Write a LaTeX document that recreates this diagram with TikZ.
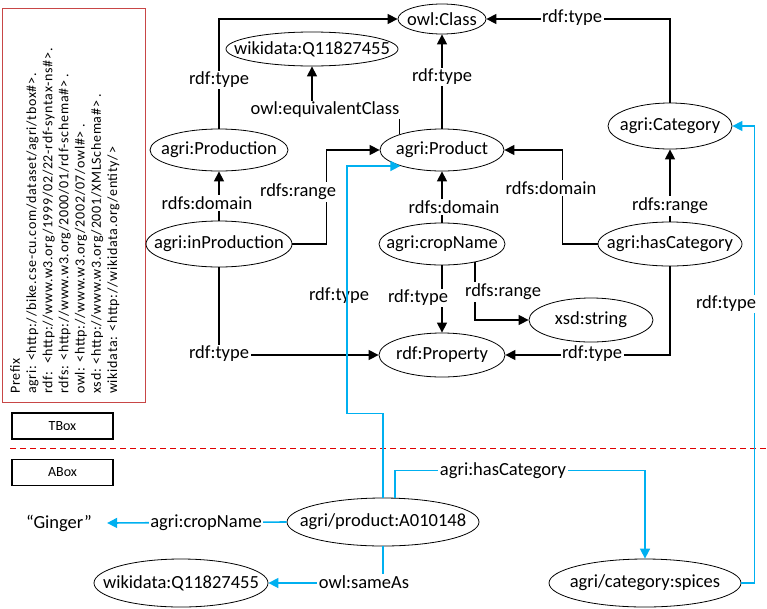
\documentclass[tikz,border=0pt]{standalone}
\usepackage{fontspec}
\setmainfont{Carlito}
\newfontfamily\prefixfont[LetterSpace=5]{Carlito}
\usetikzlibrary{shapes.geometric,arrows.meta}
\definecolor{linkblue}{RGB}{0,176,240}
\definecolor{prefixred}{RGB}{200,70,70}
\definecolor{cutred}{RGB}{224,0,0}
\newcommand{\ctr}[1]{\makebox[0pt]{#1}}
\begin{document}
\begin{tikzpicture}[x=1pt,y=-1pt,line join=miter,>={Triangle[length=10pt,width=10pt]},
	every node/.style={font=\fontsize{18.5}{21}\selectfont},
	res/.style n args={2}{ellipse,draw,line width=0.8pt,inner sep=0pt,minimum width=#1pt,minimum height=#2pt},
	lbl/.style={fill=white,inner sep=1.5pt},
	tedge/.style={line width=1.4pt},
	aedge/.style={line width=1.6pt,color=linkblue},
	boxlbl/.style={draw,line width=1.5pt,minimum width=101pt,minimum height=26pt,inner sep=0pt,font=\fontsize{14}{16}\selectfont}]
	\useasboundingbox (0,0) rectangle (767,608);
	% prefix box
	\draw[prefixred,line width=0.8pt] (2,8) rectangle (145,402);
	\node[rotate=90,anchor=north west,align=left,inner sep=0pt,font=\prefixfont\fontsize{14}{16.2}\selectfont] (prefix) at (10,394)
		{Prefix\\
		agri: <http://bike.cse-cu.com/dataset/agri/tbox\#>.\\
		rdf:\ \ <http://www.w3.org/1999/02/22-rdf-syntax-ns\#>.\\
		rdfs: <http://www.w3.org/2000/01/rdf-schema\#> .\\
		owl: <http://www.w3.org/2002/07/owl\#> .\\
		xsd: <http://www.w3.org/2001/XMLSchema\#> .\\
		wikidata: <http://wikidata.org/entity/>};
	\node[boxlbl] (tbox) at (62.5,426) {TBox};
	\node[boxlbl] (abox) at (62.5,472.5) {ABox};
	\draw[cutred,line width=1pt,dash pattern=on 6pt off 4pt] (10,448) -- (767,448);
	% TBox nodes
	\node[res={88}{30}] (owlclass) at (442,19) {\ctr{owl:Class}};
	\node[res={172}{34}] (wikiT) at (312,49) {\ctr{wikidata:Q11827455}};
	\node[res={124}{42}] (product) at (442,150) {\ctr{agri:Product}};
	\node[res={138}{42}] (production) at (219,150) {\ctr{agri:Production}};
	\node[res={146}{46}] (inprod) at (219,244) {\ctr{agri:inProduction}};
	\node[res={126}{42}] (cropname) at (442,244) {\ctr{agri:cropName}};
	\node[res={126}{44}] (property) at (442,355) {\ctr{rdf:Property}};
	\node[res={124}{44}] (xsd) at (591,320) {\ctr{xsd:string}};
	\node[res={144}{44}] (hascat) at (670,244) {\ctr{agri:hasCategory}};
	\node[res={124}{46}] (category) at (670,126) {\ctr{agri:Category}};
	% ABox nodes
	\node[res={192}{48}] (prodA) at (383,522) {\ctr{agri/product:A010148}};
	\node[res={174}{48}] (wikiB) at (181,583) {\ctr{wikidata:Q11827455}};
	\node[res={192}{48}] (spices) at (645,583) {\ctr{agri/category:spices}};
	\node[inner ysep=0pt,inner xsep=15pt] (ginger) at (59,523) {“Ginger”};
	% TBox edges
	\draw[tedge,->] (production.north) |- (owlclass.west);
	\draw[tedge,->] (product.north) -- (owlclass.south);
	\draw[tedge,->] (category.north) |- (owlclass.east);
	\draw[tedge,->] (product.160) -- ++(0,-25) -| (wikiT.south);
	\draw[tedge,->] (inprod.north) -- (production.south);
	\draw[tedge,->] (inprod.east) -- ++(34,0) |- (product.west);
	\draw[tedge,->] (inprod.south) |- (property.west);
	\draw[tedge,->] (cropname.north) -- (product.south);
	\draw[tedge,->] (cropname.south) -- (property.north);
	\draw[tedge,->] (cropname.-29) |- (xsd.west);
	\draw[tedge,->] (hascat.west) -- ++(-35,0) |- (product.east);
	\draw[tedge,->] (hascat.north) -- (category.south);
	\draw[tedge,->] (hascat.south) |- (property.east);
	\node[lbl] (t1) at (219,80) {rdf:type};
	\node[lbl] (t2) at (442,77) {rdf:type};
	\node[lbl] (t3) at (572,18) {rdf:type};
	\node[lbl] (t4) at (325,110) {owl:equivalentClass};
	\node[lbl] (t5) at (207,203) {rdfs:domain};
	\node[lbl] (t6) at (298,192) {rdfs:range};
	\node[lbl] (t7) at (219,354) {rdf:type};
	\node[lbl] (t8) at (454,207) {rdfs:domain};
	\node[lbl] (t9) at (418,298) {rdf:type};
	\node[lbl] (t10) at (503,292) {rdfs:range};
	\node[lbl] (t11) at (551,188) {rdfs:domain};
	\node[lbl] (t12) at (670,206) {rdfs:range};
	\node[lbl] (t13) at (592,354) {rdf:type};
	% ABox edges
	\node (a1) at (339,296) {rdf:type};
	\draw[aedge,->] (prodA.north) -- ++(0,-84) -- ++(-36,0) |- (product.201);
	\draw[aedge,->] ([xshift=12pt]prodA.north) -- ++(0,-27) -| (spices.north);
	\draw[aedge,->] (prodA.west) -- (ginger.east);
	\draw[aedge,->] (prodA.south) |- (wikiB.east);
	\draw[aedge,->] (spices.east) -- ++(13,0) |- (category.east);
	\node[lbl] (a2) at (503,471) {agri:hasCategory};
	\node[lbl] (a3) at (206,523) {agri:cropName};
	\node[lbl] (a4) at (364,582) {owl:sameAs};
	\node[lbl] (a5) at (726,304) {rdf:type};
\end{tikzpicture}
\end{document}
